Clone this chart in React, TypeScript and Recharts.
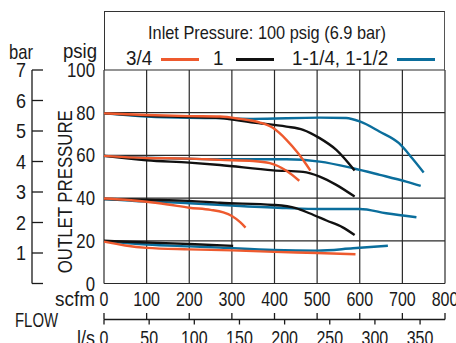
import { LineChart, Line, XAxis, YAxis, CartesianGrid, Legend, Label } from "recharts"

const FONT = "'Liberation Sans', Arial, sans-serif"
const INK = "#1a1a1a"

// axis ticks
const scfmTicks = [0, 100, 200, 300, 400, 500, 600, 700, 800]
const lpsTicks = [0, 50, 100, 150, 200, 250, 300, 350]
const psigTicks = [0, 20, 40, 60, 80, 100]
const barTicks = [0, 1, 2, 3, 4, 5, 6, 7]
const LPS_AT_800_SCFM = 377.6

// curves as [scfm, psig]
const orange80 = [[0, 79.7], [100, 78.9], [200, 78.4], [272, 78.2], [319, 77.1], [366, 75.4], [397, 72.8], [428, 67.3], [455, 61.1], [475, 55.6], [484, 52.9]]
const orange60 = [[0, 59.8], [100, 58.8], [200, 58.5], [272, 57.9], [350, 57.4], [389, 56.4], [428, 52.8], [458, 48.1]]
const orange40 = [[0, 39.8], [50, 39.2], [100, 38.3], [150, 37], [200, 35.5], [250, 34.5], [280, 33.3], [300, 31.6], [320, 28.6], [332, 26.2]]
const orange20 = [[0, 19.6], [50, 17.8], [100, 16.7], [200, 16], [300, 15.5], [400, 14.8], [500, 14.3], [590, 13.7]]

const black80 = [[0, 79.7], [100, 78.6], [200, 78], [272, 77.5], [350, 75.4], [428, 73.5], [467, 72], [506, 68.1], [545, 62.6], [588, 52.9]]
const black60 = [[0, 59.8], [100, 57.7], [200, 56.6], [272, 55.5], [397, 53], [467, 52.3], [506, 50.1], [545, 46.2], [588, 40.7]]
const black40 = [[0, 39.6], [100, 39.2], [200, 38.7], [272, 37.8], [397, 36.8], [450, 35.3], [482, 32.9], [522, 29.5], [560, 26.3], [588, 22.7]]
const black20 = [[0, 20], [100, 19.2], [200, 18.5], [303, 17.6]]

const blue80 = [[0, 79.7], [100, 78.2], [200, 77.6], [272, 77.5], [350, 77.1], [506, 77.7], [568, 77.5], [600, 75.9], [646, 71.2], [692, 65.7], [723, 58.7], [750, 52]]
const blue60 = [[0, 59.8], [100, 58.9], [200, 58.4], [272, 58.2], [428, 58.2], [506, 57.1], [584, 54], [647, 50.9], [709, 47.7], [743, 45.7]]
const blue40 = [[0, 39.6], [100, 38.4], [200, 37.6], [300, 36.5], [428, 35.3], [506, 34.9], [600, 34.9], [662, 32.9], [733, 31]]
const blue20 = [[0, 19.8], [100, 18.3], [200, 17.4], [272, 16.8], [397, 15.7], [500, 15.4], [584, 16.5], [666, 17.7]]

const ORANGE = "#ee5a2e"
const BLACK = "#111111"
const BLUE = "#0b6e9c"

const series = [
  { key: "b80", pts: blue80, color: BLUE },
  { key: "b60", pts: blue60, color: BLUE },
  { key: "b40", pts: blue40, color: BLUE },
  { key: "b20", pts: blue20, color: BLUE },
  { key: "k80", pts: black80, color: BLACK },
  { key: "k60", pts: black60, color: BLACK },
  { key: "k40", pts: black40, color: BLACK },
  { key: "k20", pts: black20, color: BLACK },
  { key: "o80", pts: orange80, color: ORANGE },
  { key: "o60", pts: orange60, color: ORANGE },
  { key: "o40", pts: orange40, color: ORANGE },
  { key: "o20", pts: orange20, color: ORANGE },
]

const toRows = (pts: number[][]) => pts.map(([scfm, psig]) => ({ scfm, psig }))
// the l/s scale has no curve of its own; an invisible row pins its range
const lpsRange = [{ lps: 0, psig: 0 }, { lps: LPS_AT_800_SCFM, psig: 0 }]

// condensed text (the original uses a narrow face)
const NText = ({ x, y, size = 20, sx = 0.82, anchor = "middle", children }: any) => (
  <text transform={`translate(${x},${y}) scale(${sx},1)`} textAnchor={anchor} fontSize={size} fontFamily={FONT} fill={INK}>
    {children}
  </text>
)

const BarTick = (props: any) => {
  const { x, y, payload } = props
  return (
    <g>
      <line x1={x} x2={x + 11} y1={y} y2={y} stroke={INK} strokeWidth={1.3} />
      {payload.value > 0 && <NText x={x - 6} y={y + 7} anchor="end" sx={0.9}>{payload.value}</NText>}
    </g>
  )
}

const PsigTick = (props: any) => {
  const { x, y, payload } = props
  return <NText x={x} y={y + 7} anchor="end" sx={0.84}>{payload.value}</NText>
}

const ScfmTick = (props: any) => {
  const { x, y, payload } = props
  return (
    <g>
      <NText x={x} y={y + 22.5} sx={0.8}>{payload.value}</NText>
      <line x1={x} x2={x} y1={y + 29.5} y2={y + 36} stroke={INK} strokeWidth={1.3} />
    </g>
  )
}

const LpsTick = (props: any) => {
  const { x, y, payload } = props
  return (
    <g>
      <line x1={x} x2={x} y1={y - 5} y2={y} stroke={INK} strokeWidth={1.3} />
      <NText x={x} y={y + 20} sx={0.8}>{payload.value}</NText>
    </g>
  )
}

const legendItems = [
  { label: "3/4", color: ORANGE, textLeft: 21, lineLeft: 56 },
  { label: "1", color: BLACK, textLeft: 108, lineLeft: 131 },
  { label: "1-1/4, 1-1/2", color: BLUE, textLeft: 187, lineLeft: 292 },
]

const renderLegend = () => (
  <div style={{ position: "relative", boxSizing: "border-box", width: 341, height: 59, borderTop: "1.5px solid #333", borderLeft: "1.5px solid #333", borderRight: "1.5px solid #555", fontFamily: FONT, color: INK }}>
    <span style={{ position: "absolute", left: 43, top: 11, fontSize: 19, lineHeight: "20px", whiteSpace: "nowrap", transform: "scaleX(0.86)", transformOrigin: "left center" }}>
      Inlet Pressure: 100 psig (6.9 bar)
    </span>
    {legendItems.map((it) => (
      <div key={it.label}>
        <span style={{ position: "absolute", left: it.textLeft, top: 34, fontSize: 20, lineHeight: "24px", whiteSpace: "nowrap", transform: "scaleX(0.94)", transformOrigin: "left center" }}>{it.label}</span>
        <span style={{ position: "absolute", left: it.lineLeft, top: 46, width: 38, height: 2.5, background: it.color }} />
      </div>
    ))}
  </div>
)

export default function App() {
  return (
    <div style={{ position: "absolute", left: 0, top: 0, background: "#fff" }}>
      <LineChart width={456} height={343} margin={{ top: 11, right: 11, bottom: 0, left: 0 }}>
        <CartesianGrid xAxisId="x1scfm" yAxisId="y1psig" stroke="#2a2a2a" strokeWidth={1.2} />
        <XAxis xAxisId="x1scfm" dataKey="scfm" type="number" domain={[0, 800]} ticks={scfmTicks} height={36}
          axisLine={false} tickLine={false} tickSize={0} tickMargin={0} tick={<ScfmTick />} interval={0}>
          <Label content={({ viewBox }: any) => (
            <g>
              <NText x={viewBox.x - 9} y={viewBox.y + 22.5} anchor="end" sx={0.95}>scfm</NText>
              <NText x={15} y={viewBox.y + 43} anchor="start" size={21} sx={0.71}>FLOW</NText>
            </g>
          )} />
        </XAxis>
        <XAxis xAxisId="x2lps" dataKey="lps" type="number" domain={[0, LPS_AT_800_SCFM]} allowDataOverflow ticks={lpsTicks} height={23.5}
          axisLine={{ stroke: INK, strokeWidth: 1.3 }} tickLine={false} tickSize={5} tickMargin={0} tick={<LpsTick />} interval={0}>
          <Label content={({ viewBox }: any) => (
            <NText x={viewBox.x - 9} y={viewBox.y + 25} anchor="end" sx={0.9}>l/s</NText>
          )} />
        </XAxis>
        <YAxis yAxisId="y1psig" type="number" domain={[0, 100]} ticks={psigTicks} width={72}
          axisLine={false} tickLine={false} tickSize={0} tickMargin={9} interval={0} tick={<PsigTick />}>
          <Label content={({ viewBox }: any) => (
            <g>
              <NText x={viewBox.x + viewBox.width - 7} y={viewBox.y - 12} anchor="end" sx={0.93}>psig</NText>
              <text transform={`translate(${viewBox.x + 40}, ${viewBox.y + viewBox.height / 2 + 15}) rotate(-90) scale(0.8,1)`}
                textAnchor="middle" fontSize={21} fontFamily={FONT} fill={INK}>OUTLET PRESSURE</text>
            </g>
          )} />
        </YAxis>
        <YAxis yAxisId="y2bar" type="number" domain={[0, 7]} allowDataOverflow ticks={barTicks} width={32}
          axisLine={{ stroke: INK, strokeWidth: 1.3 }} tickLine={false} tickSize={0} tickMargin={0} tick={<BarTick />} interval={0}>
          <Label content={({ viewBox }: any) => (
            <NText x={21} y={viewBox.y - 11} sx={0.83}>bar</NText>
          )} />
        </YAxis>
        <Legend verticalAlign="top" align="left" wrapperStyle={{ left: 104, top: 11, width: 341 }} content={renderLegend} />
        <Line xAxisId="x2lps" yAxisId="y1psig" data={lpsRange} dataKey="psig" stroke="none" dot={false} activeDot={false}
          isAnimationActive={false} legendType="none" />
        {series.map((s) => (
          <Line key={s.key} xAxisId="x1scfm" yAxisId="y1psig" data={toRows(s.pts)} dataKey="psig" type="monotone"
            stroke={s.color} strokeWidth={2.4} dot={false} activeDot={false} isAnimationActive={false} legendType="none" />
        ))}
      </LineChart>
    </div>
  )
}
